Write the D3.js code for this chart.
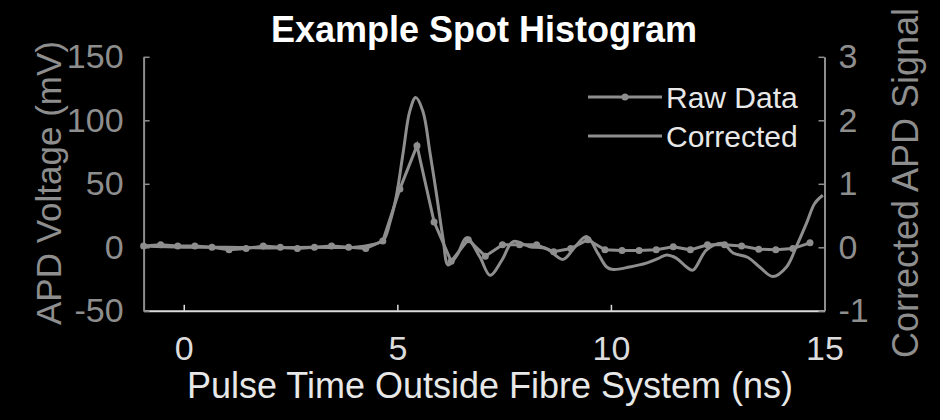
<!DOCTYPE html>
<html><head><meta charset="utf-8">
<script src="https://cdn.jsdelivr.net/npm/d3@7"></script>
<style>
html,body{margin:0;padding:0;background:#000;}
svg{display:block;}
text{font-family:"Liberation Sans",Arial,sans-serif;}
</style></head>
<body>
<svg id="chart" width="940" height="420"></svg>
<script>
// ---- data ----
const rawTimes = d3.range(40).map(k => +(-0.94 + 0.4 * k).toFixed(2));
const rawValues = [1, 2, 1, 1, 0, -2, -1, 1, 0, -1,
                   0, 1, 0, -1, 5, 46, 80, 20, -11, 6,
                   -7, 2, 2, 2, -3.5, -1, 6, -2, -2.5, -2.5,
                   -2, 0.5, -2, 2, 2, 1, -1.5, -2, -1, 3.5];
const corrTimes = [-0.94, 0, 1, 2, 3, 4, 4.4, 4.67, 4.83, 4.98, 5.14, 5.29, 5.43, 5.6, 5.76, 5.92, 6.07, 6.19,
                   6.4, 6.62, 6.93, 7.17, 7.45, 7.71, 8.1, 8.49, 8.88, 9.15, 9.43, 9.7, 9.9, 10.05, 10.44, 10.83,
                   11.1, 11.3, 11.53, 11.77, 11.92, 12.24, 12.62, 12.86, 13.21, 13.48, 13.79, 14.11, 14.34,
                   14.58, 14.77, 14.96];
const corrValues = [0.02, 0, 0, -0.01, 0, 0, 0.04, 0.11, 0.40, 0.82, 1.51, 2.14, 2.36, 2.14, 1.51, 0.82, 0.14, -0.28,
                    -0.12, 0.15, -0.15, -0.44, -0.2, 0.09, 0.01, -0.02, -0.19, 0.0, 0.17, -0.1, -0.31, -0.35, -0.31, -0.25,
                    -0.18, -0.12, -0.17, -0.31, -0.36, -0.04, 0.06, -0.09, -0.16, -0.31, -0.46, -0.31, 0.01,
                    0.38, 0.69, 0.82];
const xTicks = [0, 5, 10, 15];
const yLeftTicks = [-50, 0, 50, 100, 150];
const yRightTicks = [-1, 0, 1, 2, 3];
const seriesNames = ["Raw Data", "Corrected"];
const titleText = "Example Spot Histogram";
const xLabel = "Pulse Time Outside Fibre System (ns)";
const yLeftLabel = "APD Voltage (mV)";
const yRightLabel = "Corrected APD Signal";

// ---- layout ----
const W = 940, H = 420;
const m = {left: 143.6, right: 824.5, top: 56.8, bottom: 310.8};
const lineCol = "#8e8e8e", xCol = "#dcdcdc";
const svg = d3.select("#chart");
svg.append("rect").attr("width", W).attr("height", H).attr("fill", "#000");

const x = d3.scaleLinear().domain([-0.94, 15]).range([m.left, m.right]);
const yL = d3.scaleLinear().domain([-50, 150]).range([m.bottom, m.top]);
const yR = d3.scaleLinear().domain([-1, 3]).range([m.bottom, m.top]);

const fs = 34;
const fmt = d => String(d);
// x axis
const gx = svg.append("g").attr("transform", `translate(0,${m.bottom})`)
  .call(d3.axisBottom(x).tickValues(xTicks).tickFormat(fmt).tickSize(-6).tickPadding(25).tickSizeOuter(0));
gx.select(".domain").attr("stroke", xCol).attr("stroke-width", 2);
gx.selectAll(".tick line").attr("stroke", xCol).attr("stroke-width", 1.5);
gx.selectAll(".tick text").attr("fill", xCol).attr("font-size", fs);

// left axis
const gl = svg.append("g").attr("transform", `translate(${m.left},0)`)
  .call(d3.axisLeft(yL).tickValues(yLeftTicks).tickFormat(fmt).tickSize(-6).tickPadding(20).tickSizeOuter(0));
gl.select(".domain").attr("stroke", lineCol).attr("stroke-width", 2);
gl.selectAll(".tick line").attr("stroke", lineCol).attr("stroke-width", 1.5);
gl.selectAll(".tick text").attr("fill", lineCol).attr("font-size", fs);

// right axis
const gr = svg.append("g").attr("transform", `translate(${m.right},0)`)
  .call(d3.axisRight(yR).tickValues(yRightTicks).tickFormat(fmt).tickSize(-6).tickPadding(14).tickSizeOuter(0));
gr.select(".domain").attr("stroke", lineCol).attr("stroke-width", 2);
gr.selectAll(".tick line").attr("stroke", lineCol).attr("stroke-width", 1.5);
gr.selectAll(".tick text").attr("fill", lineCol).attr("font-size", fs);

// lines
const rawData = rawTimes.map((t, i) => [t, rawValues[i]]);
const corrData = corrTimes.map((t, i) => [t, corrValues[i]]);
const plot = svg.append("g");
plot.append("path").datum(rawData)
  .attr("d", d3.line().x(d => x(d[0])).y(d => yL(d[1])))
  .attr("fill", "none").attr("stroke", lineCol).attr("stroke-width", 3);
plot.selectAll("circle.raw").data(rawData).join("circle").attr("class", "raw")
  .attr("cx", d => x(d[0])).attr("cy", d => yL(d[1])).attr("r", 3.5).attr("fill", lineCol);
plot.append("path").datum(corrData)
  .attr("d", d3.line().curve(d3.curveCatmullRom.alpha(0.5)).x(d => x(d[0])).y(d => yR(d[1])))
  .attr("fill", "none").attr("stroke", lineCol).attr("stroke-width", 3);

// legend
const lg = svg.append("g");
const legY = [97, 136];
seriesNames.forEach((name, i) => {
  lg.append("line").attr("x1", 588).attr("x2", 662).attr("y1", legY[i]).attr("y2", legY[i])
    .attr("stroke", lineCol).attr("stroke-width", 3);
  if (i === 0) lg.append("circle").attr("cx", 625).attr("cy", legY[i]).attr("r", 3.5).attr("fill", lineCol);
  lg.append("text").attr("x", 666).attr("y", legY[i]).attr("dy", "0.36em")
    .attr("fill", "#e8e8e8").attr("font-size", 30).text(name);
});

// title and labels
svg.append("text").attr("x", 484).attr("y", 42).attr("text-anchor", "middle")
  .attr("fill", "#ffffff").attr("font-weight", "bold").attr("font-size", 36).text(titleText);
svg.append("text").attr("x", 490).attr("y", 398).attr("text-anchor", "middle")
  .attr("fill", "#e8e8e8").attr("font-size", 36).text(xLabel);
svg.append("text").attr("transform", "translate(61,183) rotate(-90)").attr("text-anchor", "middle")
  .attr("fill", lineCol).attr("font-size", 35).text(yLeftLabel);
svg.append("text").attr("transform", "translate(918,183) rotate(-90)").attr("text-anchor", "middle")
  .attr("fill", lineCol).attr("font-size", 36).text(yRightLabel);
</script>
</body></html>
